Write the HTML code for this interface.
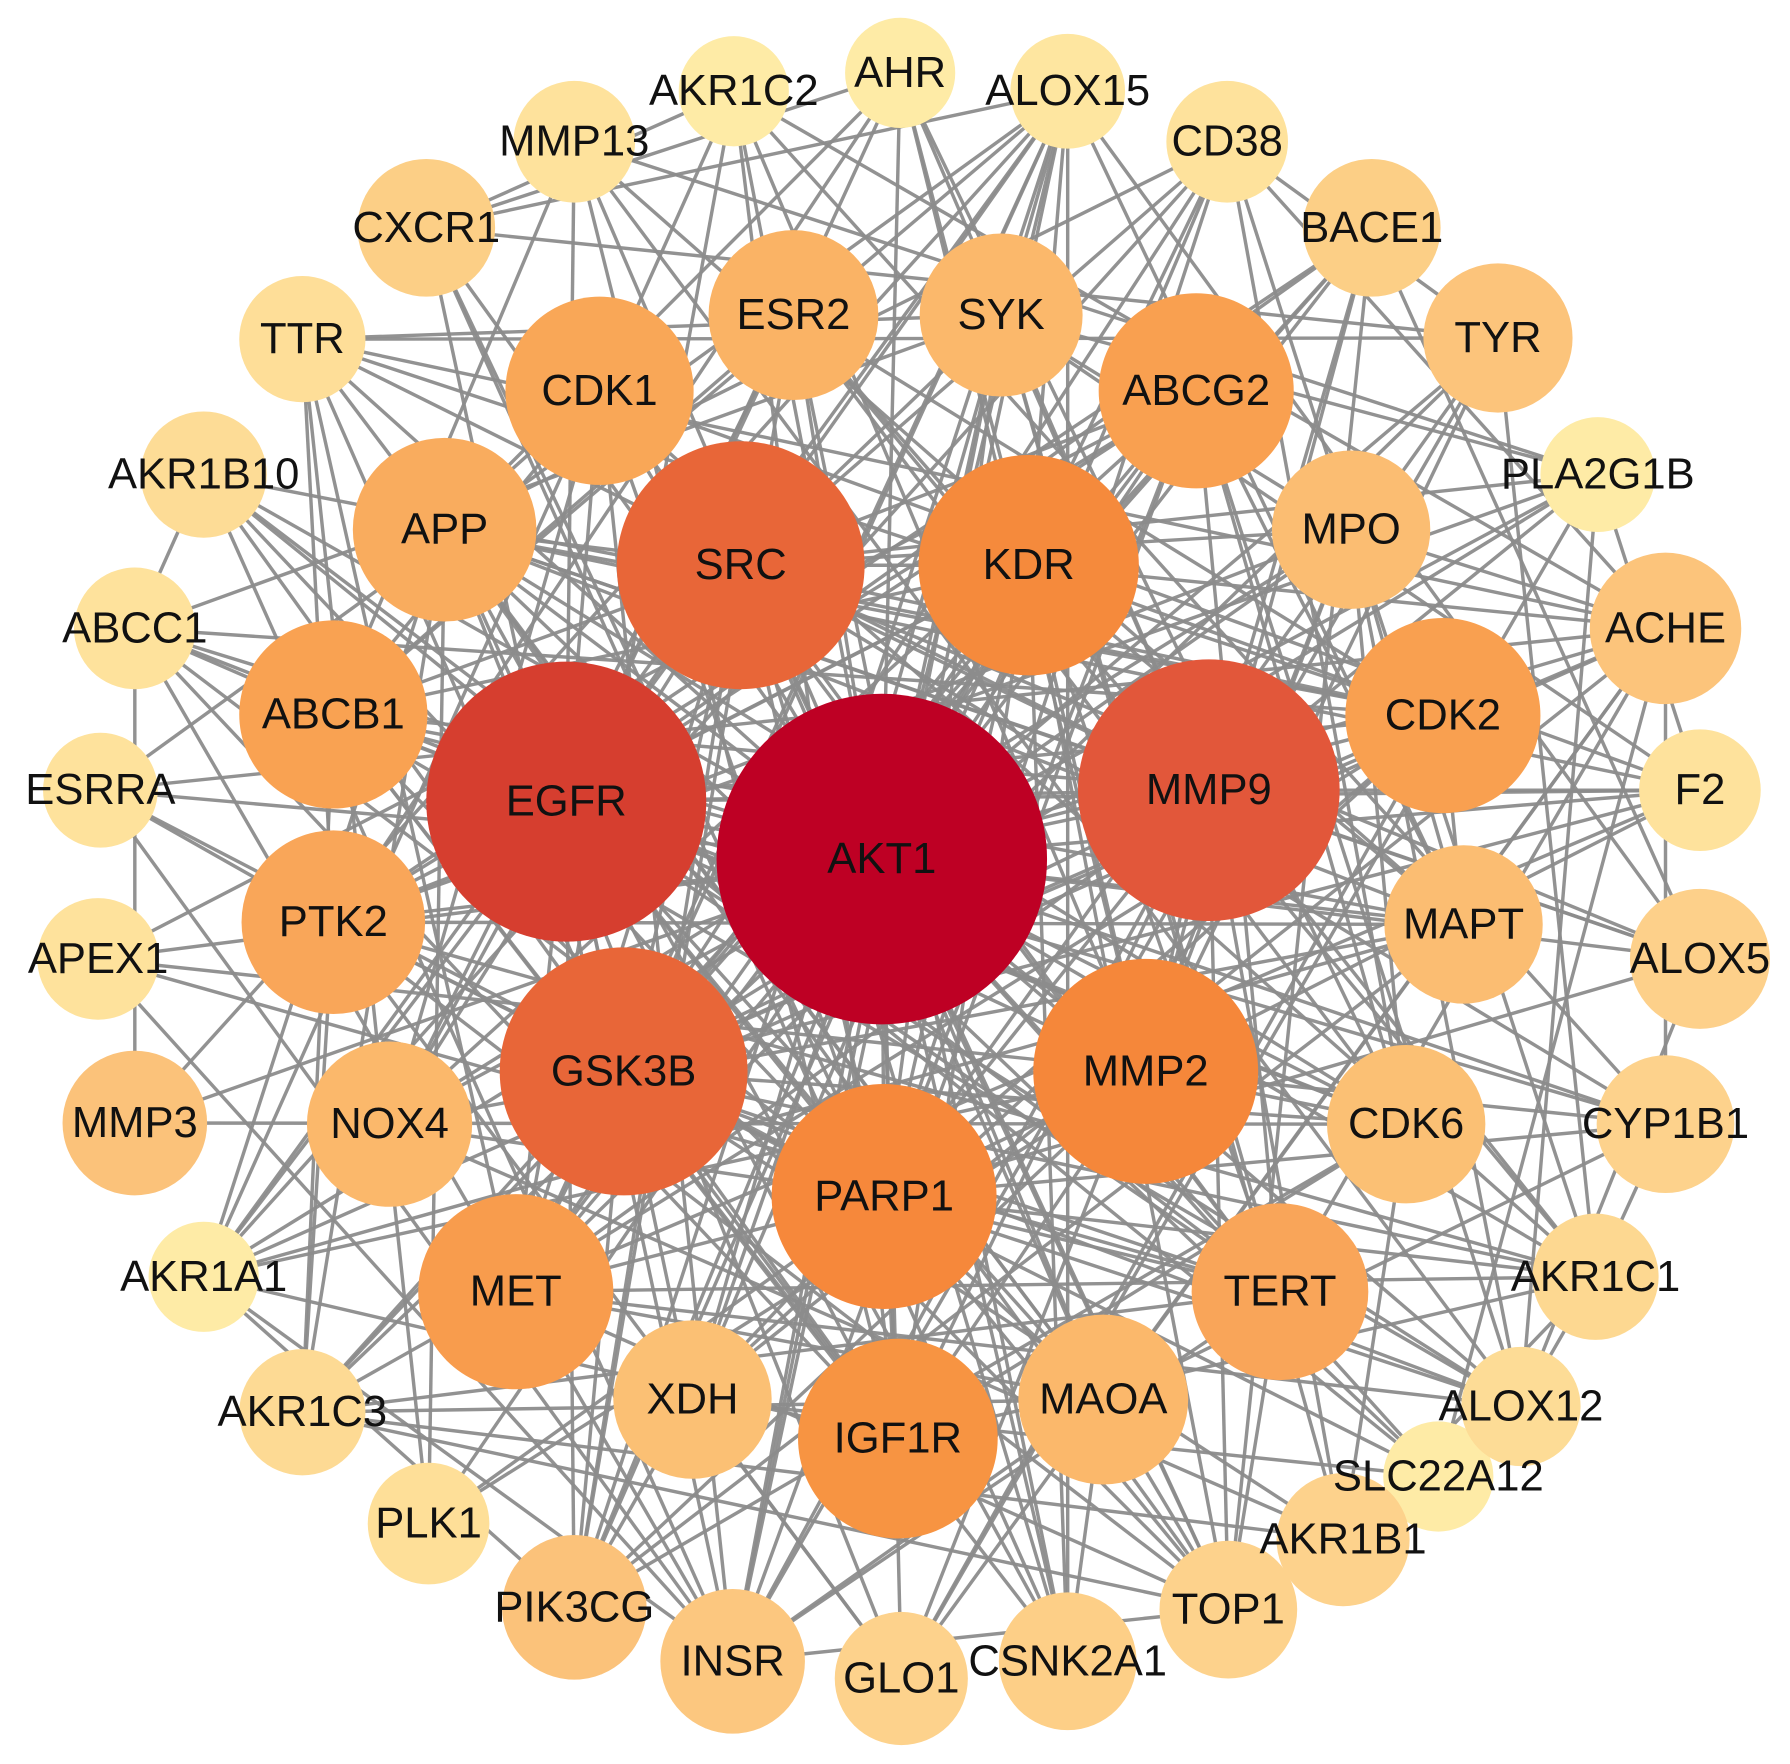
<!DOCTYPE html>
<html><head><meta charset="utf-8"><style>
html,body{margin:0;padding:0;background:#fff;width:1790px;height:1764px;overflow:hidden}
svg{display:block}
text{font-family:"Liberation Sans",Arial,sans-serif;font-size:38px;fill:#111;text-anchor:middle;dominant-baseline:central}
</style></head><body>
<svg id="s" width="1790" height="1764" viewBox="0 0 1560 1537" preserveAspectRatio="none" xmlns="http://www.w3.org/2000/svg">
<g transform="translate(-4.5,-4.5)">
<g id="edges" stroke="#8c8c8c" stroke-width="3" stroke-opacity="0.95"></g>
<g id="nodes"></g>
</g>
</svg>
<script>
var N=[
["AKT1",773,753,144,"#BE0024"],["EGFR",498,703,122,"#D63E2F"],["MMP9",1058,693,114,"#E2573A"],
["SRC",650,497,108,"#E86638"],["GSK3B",548,938,108,"#E86638"],["KDR",901,497,96,"#F58A3C"],
["MMP2",1003,938,98,"#F5873A"],["PARP1",775,1047,98,"#F6883B"],["IGF1R",787,1258,87,"#F79442"],
["MET",454,1130,85,"#F89C4D"],["TERT",1120,1130,77,"#F9A559"],["ABCG2",1047,345,85,"#F9A050"],
["CDK1",527,345,82,"#F9A757"],["CDK2",1262,628,85,"#F9A050"],["ABCB1",295,627,82,"#F9A252"],
["PTK2",295,808,80,"#F9A659"],["APP",392,466,80,"#F9AC5E"],["ESR2",696,279,74,"#FAB365"],
["SYK",877,279,71,"#FBB86B"],["MPO",1182,466,69,"#FBBD72"],["MAPT",1280,810,69,"#FBBD72"],
["CDK6",1230,984,69,"#FBC074"],["NOX4",344,984,72,"#FBB86B"],["XDH",608,1224,69,"#FBC074"],
["MAOA",966,1224,74,"#FBB86B"],["MMP3",122,983,63,"#FBC27A"],["PIK3CG",505,1405,63,"#FBC27A"],
["INSR",643,1452,63,"#FCC77F"],["TYR",1310,299,65,"#FCC47B"],["BACE1",1200,203,60,"#FCCF86"],
["CXCR1",376,203,60,"#FCCF86"],["ACHE",1456,552,66,"#FCC47B"],["ALOX5",1486,840,61,"#FDD08A"],
["CYP1B1",1456,984,60,"#FDD28C"],["GLO1",790,1467,58,"#FDD28C"],["CSNK2A1",935,1452,60,"#FDCF87"],
["TOP1",1075,1407,60,"#FDD28C"],["AKR1B1",1175,1346,58,"#FDD28C"],["AKR1C1",1395,1117,55,"#FDD891"],
["ALOX12",1330,1230,52,"#FDDC96"],["SLC22A12",1258,1291,48,"#FEEBA6"],["PLK1",378,1332,53,"#FEDF98"],
["AKR1C3",268,1235,55,"#FDDA94"],["AKR1A1",182,1117,48,"#FEEBA6"],["APEX1",90,840,53,"#FEE29C"],
["ESRRA",92,693,50,"#FEE29C"],["ABCC1",122,552,53,"#FEE29C"],["AKR1B10",182,418,55,"#FDDC96"],
["TTR",268,300,55,"#FEDE98"],["MMP13",505,128,53,"#FEE29C"],["AKR1C2",644,84,48,"#FEEBA6"],
["AHR",789,68,48,"#FEEBA6"],["ALOX15",935,84,50,"#FEE6A0"],["CD38",1074,128,53,"#FEE29C"],
["PLA2G1B",1397,418,50,"#FEEBA6"],["F2",1486,693,53,"#FEE29C"]];
var ns="http://www.w3.org/2000/svg",E=document.getElementById("edges"),G=document.getElementById("nodes");
var seed=12345;function rnd(){seed=(seed*1103515245+12345)%2147483648;return seed/2147483648;}
for(var i=0;i<N.length;i++)for(var j=i+1;j<N.length;j++){
 var a=N[i],b=N[j],p;
 if(i==0)p=0.92;else p=Math.min(1,Math.pow(a[3]*b[3]/20736,1.6)*2.2);
 if(rnd()<p){var l=document.createElementNS(ns,"line");
  l.setAttribute("x1",a[1]);l.setAttribute("y1",a[2]);l.setAttribute("x2",b[1]);l.setAttribute("y2",b[2]);E.appendChild(l);}
}
for(var k=N.length-1;k>=0;k--){var n=N[k];
 var c=document.createElementNS(ns,"circle");c.setAttribute("cx",n[1]);c.setAttribute("cy",n[2]);c.setAttribute("r",n[3]);c.setAttribute("fill",n[4]);G.appendChild(c);}
for(var k=0;k<N.length;k++){var n=N[k];
 var t=document.createElementNS(ns,"text");t.setAttribute("x",n[1]);t.setAttribute("y",n[2]);t.textContent=n[0];G.appendChild(t);}
</script>
</body></html>
